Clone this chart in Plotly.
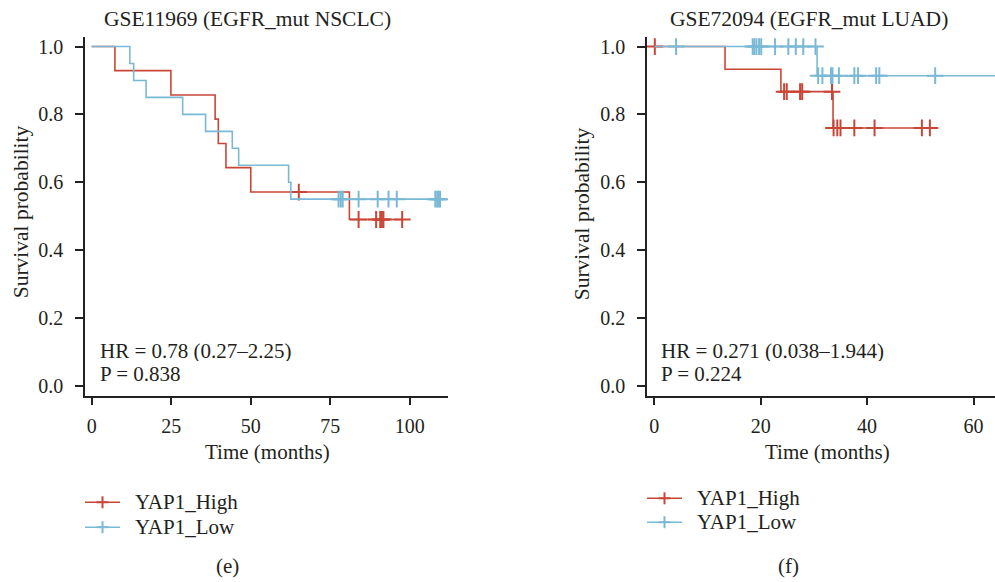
import plotly.graph_objects as go

W, H = 995, 582

# ---------------- data ----------------
# Panel (e) GSE11969 (EGFR_mut NSCLC)
e_high_time = [0, 7.3, 24.9, 38.8, 39.8, 42.2, 50.0, 81.0, 97.6]
e_high_surv = [1.0, 0.929, 0.857, 0.786, 0.714, 0.643, 0.571, 0.490, 0.490]
e_high_censor = [65.1, 83.9, 89.4, 90.7, 91.2, 91.7, 97.6]

e_low_time = [0, 12.0, 13.2, 17.1, 28.6, 35.8, 44.2, 46.2, 61.9, 62.6, 109.5]
e_low_surv = [1.0, 0.95, 0.90, 0.85, 0.80, 0.75, 0.70, 0.65, 0.60, 0.55, 0.55]
e_low_censor = [77.6, 78.3, 78.9, 83.9, 89.9, 93.3, 95.9, 108.0, 108.6, 109.0, 109.5]

# Panel (f) GSE72094 (EGFR_mut LUAD)
f_high_time = [0, 13.3, 23.8, 33.6, 51.8]
f_high_surv = [1.0, 0.933, 0.867, 0.760, 0.760]
f_high_censor = [0.1, 24.4, 24.9, 27.4, 27.8, 33.4, 33.7, 34.4, 35.0, 37.6, 41.4, 50.3, 51.8]

f_low_time = [0, 30.6, 66.0]
f_low_surv = [1.0, 0.914, 0.914]
f_low_censor = [4.1, 18.5, 18.8, 19.2, 19.7, 20.1, 22.7, 25.2, 26.6, 28.0, 30.3, 30.8,
                31.6, 33.2, 33.5, 34.7, 37.6, 38.3, 41.7, 42.3, 52.8]

group_names = ["YAP1_High", "YAP1_Low"]
titles = ["GSE11969 (EGFR_mut NSCLC)", "GSE72094 (EGFR_mut LUAD)"]
stats_e = ["HR = 0.78 (0.27–2.25)", "P = 0.838"]
stats_f = ["HR = 0.271 (0.038–1.944)", "P = 0.224"]
panel_labels = ["(e)", "(f)"]
e_xticks = [0, 25, 50, 75, 100]
f_xticks = [0, 20, 40, 60]
y_ticks = [0.0, 0.2, 0.4, 0.6, 0.8, 1.0]

# ---------------- style ----------------
RED = "#C94636"
BLUE = "#7AB9D5"
TXT = "#231F20"
AX = "#222222"
FONT = "Liberation Serif, Times New Roman, serif"
FS = 21


def px(x):
    return x / W


def py(y):
    return 1 - y / H


def surv_at(t, times, survs):
    s = survs[0]
    for ti, si in zip(times, survs):
        if ti <= t:
            s = si
    return s


fig = go.Figure()


def add_group(times, survs, cens, color, xa, ya, name):
    fig.add_trace(go.Scatter(
        x=times, y=survs, mode="lines", line=dict(color=color, width=1.6, shape="hv"),
        xaxis=xa, yaxis=ya, name=name, showlegend=False, hoverinfo="skip"))
    fig.add_trace(go.Scatter(
        x=cens, y=[surv_at(c, times, survs) for c in cens], mode="markers",
        marker=dict(symbol="cross-thin", size=12, color=color,
                    line=dict(color=color, width=2)),
        xaxis=xa, yaxis=ya, name=name, showlegend=False))


add_group(e_high_time, e_high_surv, e_high_censor, RED, "x", "y", group_names[0])
add_group(e_low_time, e_low_surv, e_low_censor, BLUE, "x", "y", group_names[1])
add_group(f_high_time, f_high_surv, f_high_censor, RED, "x2", "y2", group_names[0])
add_group(f_low_time, f_low_surv, f_low_censor, BLUE, "x2", "y2", group_names[1])

ydom = [py(396), py(36)]
common_axis = dict(showline=True, linecolor=AX, linewidth=1.5, ticks="outside",
                   ticklen=8, tickwidth=1.5, tickcolor=AX, showgrid=False,
                   zeroline=False, tickfont=dict(family=FONT, size=20, color=TXT))

fig.update_layout(
    width=W, height=H,
    margin=dict(l=0, r=0, t=0, b=0),
    paper_bgcolor="white", plot_bgcolor="white",
    font=dict(family=FONT, size=FS, color=TXT),
    showlegend=False,
    xaxis=dict(domain=[px(85), px(448)], range=[-2.1, 112.0], tickvals=e_xticks,
               anchor="y", ticklabelstandoff=4, **common_axis),
    yaxis=dict(domain=ydom, range=[-0.0294, 1.0285], tickvals=y_ticks, tickformat=".1f",
               anchor="x", ticklabelstandoff=8, **common_axis),
    xaxis2=dict(domain=[px(647), 1.0], range=[-1.37, 64.04], tickvals=f_xticks,
                anchor="y2", ticklabelstandoff=4, **common_axis),
    yaxis2=dict(domain=ydom, range=[-0.0294, 1.0285], tickvals=y_ticks, tickformat=".1f",
                anchor="x2", ticklabelstandoff=8, **common_axis),
)

ann = []


def text(s, x, y, xanchor="center", angle=0, size=FS, height=None):
    a = dict(text=s, x=px(x), y=py(y), xref="paper", yref="paper",
             xanchor=xanchor, yanchor="middle", showarrow=False,
             textangle=angle, font=dict(family=FONT, size=size, color=TXT))
    if height:
        a["height"] = height
    ann.append(a)


# titles
text(titles[0], 247.5, 18, size=21.5)
text(titles[1], 809, 18, size=21.5)
# axis titles
text("Survival probability", 21, 212, angle=-90, size=21.5)
text("Survival probability", 582, 214, angle=-90, size=21.5)
text("Time (months)", 267, 453)
text("Time (months)", 827, 453)
# statistics
text(stats_e[0], 98, 351, xanchor="left", height=20)
text(stats_e[1], 98, 374, xanchor="left", height=20)
text(stats_f[0], 659, 351, xanchor="left", height=20)
text(stats_f[1], 659, 374, xanchor="left", height=20)
# panel labels
text(panel_labels[0], 227, 567)
text(panel_labels[1], 788, 567)

shapes = []


def legend_item(x0, y, color, label):
    shapes.append(dict(type="line", xref="paper", yref="paper", x0=px(x0), x1=px(x0 + 35),
                       y0=py(y), y1=py(y), line=dict(color=color, width=1.6)))
    cx = x0 + 17.5
    shapes.append(dict(type="line", xref="paper", yref="paper", x0=px(cx - 6), x1=px(cx + 6),
                       y0=py(y), y1=py(y), line=dict(color=color, width=2)))
    shapes.append(dict(type="line", xref="paper", yref="paper", x0=px(cx), x1=px(cx),
                       y0=py(y - 6), y1=py(y + 6), line=dict(color=color, width=2)))
    text(label, x0 + 48, y, xanchor="left")


legend_item(85, 503, RED, group_names[0])
legend_item(85, 528, BLUE, group_names[1])
legend_item(647, 499, RED, group_names[0])
legend_item(647, 523, BLUE, group_names[1])

fig.update_layout(annotations=ann, shapes=shapes)
fig.write_html("out.html", config={"displayModeBar": False},
               post_script="document.body.style.margin='0';document.body.style.padding='0';")
